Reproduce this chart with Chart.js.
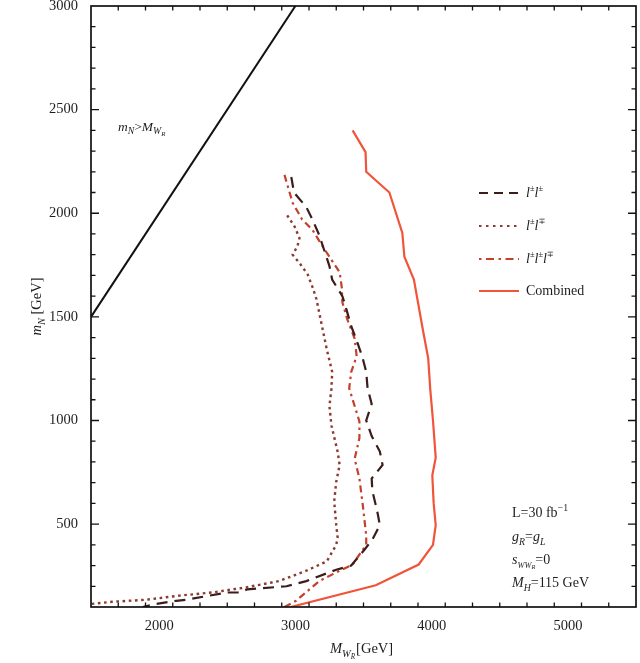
<!DOCTYPE html>
<html>
<head>
<meta charset="utf-8">
<script src="https://cdn.jsdelivr.net/npm/chart.js@4/dist/chart.umd.min.js"></script>
<style>
  html, body { margin: 0; padding: 0; background: #fff; }
  #wrap { width: 640px; height: 663px; }
</style>
</head>
<body>
<div id="wrap"><canvas id="c" width="640" height="663"></canvas></div>
<script>
// Axis ranges and tick values
const xRange = [1500, 5500];
const yRange = [100, 3000];
const xMajorTicks = [2000, 3000, 4000, 5000];
const yMajorTicks = [500, 1000, 1500, 2000, 2500, 3000];
const xMinorStep = 200;
const yMinorStep = 100;

// Kinematic boundary m_N = M_WR
const boundaryMW = [1500, 3000];
const boundaryMN = [1500, 3000];

// l±l± (dashed)
const ssMW = [2970, 2990, 3080, 3125, 3175, 3210, 3250, 3270, 3345, 3375, 3410, 3450, 3490, 3520, 3530, 3560, 3520, 3560, 3620, 3640, 3560, 3565, 3600, 3620, 3565, 3505, 3410, 3300, 3140, 3080, 2935, 2645, 2590, 2495, 2370, 2200, 2125, 1980, 1880];
const ssMN = [2175, 2100, 2030, 1970, 1895, 1825, 1745, 1680, 1600, 1535, 1455, 1385, 1310, 1235, 1155, 1080, 1000, 925, 850, 785, 720, 660, 565, 495, 425, 375, 300, 280, 240, 225, 200, 185, 170, 170, 155, 135, 130, 115, 100];

// l±l∓ (dotted)
const osMW = [2940, 2995, 3030, 3015, 2980, 3030, 3090, 3125, 3155, 3175, 3200, 3230, 3270, 3265, 3250, 3265, 3310, 3325, 3300, 3285, 3300, 3310, 3300, 3230, 3080, 2880, 2640, 2390, 2150, 1905, 1655, 1500];
const osMN = [1990, 1935, 1880, 1840, 1800, 1760, 1705, 1645, 1585, 1520, 1440, 1345, 1235, 1155, 1070, 975, 850, 785, 705, 610, 495, 435, 400, 320, 275, 225, 195, 170, 155, 135, 125, 115];

// l±l±l∓ (dash-dot)
const triMW = [2920, 2980, 3050, 3125, 3200, 3265, 3325, 3340, 3345, 3380, 3435, 3450, 3410, 3395, 3435, 3470, 3470, 3435, 3470, 3495, 3520, 3520, 3420, 3325, 3175, 3005, 2920];
const triMN = [2185, 2050, 1970, 1920, 1840, 1775, 1715, 1645, 1570, 1490, 1395, 1310, 1235, 1155, 1070, 995, 915, 815, 720, 590, 445, 400, 305, 275, 225, 130, 100];

// Combined
const combMW = [3420, 3515, 3520, 3690, 3785, 3800, 3870, 3935, 3975, 3990, 4010, 4030, 4005, 4015, 4030, 4010, 3905, 3590, 2965];
const combMN = [2400, 2295, 2200, 2100, 1905, 1790, 1680, 1440, 1300, 1150, 1000, 820, 735, 600, 495, 400, 305, 205, 100];

const toPts = (xs, ys) => xs.map((x, i) => ({ x: x, y: ys[i] }));

const SERIF = '"Liberation Serif", "DejaVu Serif", serif';
const TXT = '#1e1e1e';

// Draws a run of text pieces with italic / subscript / superscript support
function richWidth(ctx, segs, size) {
  let w = 0;
  for (const s of segs) {
    const fs = size * (s.scale || 1);
    ctx.font = (s.i ? 'italic ' : '') + fs + 'px ' + SERIF;
    w += ctx.measureText(s.t).width + (s.gap || 0);
  }
  return w;
}
function drawRich(ctx, x, y, segs, size, align) {
  ctx.save();
  ctx.fillStyle = TXT;
  ctx.textBaseline = 'alphabetic';
  ctx.textAlign = 'left';
  let cx = x;
  if (align === 'center') cx = x - richWidth(ctx, segs, size) / 2;
  for (const s of segs) {
    const fs = size * (s.scale || 1);
    ctx.font = (s.i ? 'italic ' : '') + fs + 'px ' + SERIF;
    ctx.fillText(s.t, cx, y + (s.dy || 0) * size);
    cx += ctx.measureText(s.t).width + (s.gap || 0);
  }
  ctx.restore();
}

const frameAndText = {
  id: 'frameAndText',
  beforeDraw(chart) {
    const ctx = chart.ctx;
    ctx.save();
    ctx.fillStyle = '#fff';
    ctx.fillRect(0, 0, chart.width, chart.height);
    ctx.restore();
  },
  afterDraw(chart) {
    const ctx = chart.ctx;
    const a = chart.chartArea;
    const xs = chart.scales.x, ys = chart.scales.y;

    // frame
    ctx.save();
    ctx.strokeStyle = '#111';
    ctx.lineWidth = 1.7;
    ctx.strokeRect(a.left, a.top, a.right - a.left, a.bottom - a.top);

    // inward ticks on all four sides
    ctx.lineWidth = 1.3;
    ctx.beginPath();
    for (let v = xRange[0]; v <= xRange[1]; v += xMinorStep) {
      if (v <= xRange[0] || v >= xRange[1]) continue;
      const px = xs.getPixelForValue(v);
      const len = xMajorTicks.includes(v) ? 8 : 4.5;
      ctx.moveTo(px, a.bottom); ctx.lineTo(px, a.bottom - len);
      ctx.moveTo(px, a.top); ctx.lineTo(px, a.top + len);
    }
    for (let v = 200; v <= yRange[1]; v += yMinorStep) {
      if (v >= yRange[1]) continue;
      const py = ys.getPixelForValue(v);
      const len = yMajorTicks.includes(v) ? 8 : 4.5;
      ctx.moveTo(a.left, py); ctx.lineTo(a.left + len, py);
      ctx.moveTo(a.right, py); ctx.lineTo(a.right - len, py);
    }
    ctx.stroke();
    ctx.restore();

    // axis titles
    const fs = 14.5;
    ctx.save();
    ctx.translate(36, (a.top + a.bottom) / 2);
    ctx.rotate(-Math.PI / 2);
    drawRich(ctx, 0, 5, [
      { t: 'm', i: true },
      { t: 'N', i: true, scale: 0.72, dy: 0.25 },
      { t: ' [GeV]' }
    ], fs, 'center');
    ctx.restore();

    drawRich(ctx, (a.left + a.right) / 2 - 2, 653, [
      { t: 'M', i: true },
      { t: 'W', i: true, scale: 0.72, dy: 0.25 },
      { t: 'R', i: true, scale: 0.5, dy: 0.38, gap: 1 },
      { t: '[GeV]' }
    ], fs, 'center');

    // boundary label
    drawRich(ctx, 118, 131, [
      { t: 'm', i: true },
      { t: 'N', i: true, scale: 0.72, dy: 0.25 },
      { t: '>' },
      { t: 'M', i: true },
      { t: 'W', i: true, scale: 0.72, dy: 0.25 },
      { t: 'R', i: true, scale: 0.5, dy: 0.38 }
    ], 13.5);

    // legend
    const legendRows = [
      { y: 193, color: '#3b1d1b', dash: [9, 6], w: 2, label: [{ t: 'l', i: true }, { t: '±', scale: 0.6, dy: -0.45 }, { t: 'l', i: true }, { t: '±', scale: 0.6, dy: -0.45 }] },
      { y: 226, color: '#8b3a30', dash: [2.5, 4.5], w: 2.2, label: [{ t: 'l', i: true }, { t: '±', scale: 0.6, dy: -0.45 }, { t: 'l', i: true }, { t: '∓', scale: 0.6, dy: -0.45 }] },
      { y: 259, color: '#c4402c', dash: [2.5, 4.5, 8, 4.5], w: 2, label: [{ t: 'l', i: true }, { t: '±', scale: 0.6, dy: -0.45 }, { t: 'l', i: true }, { t: '±', scale: 0.6, dy: -0.45 }, { t: 'l', i: true }, { t: '∓', scale: 0.6, dy: -0.45 }] },
      { y: 291, color: '#f0553a', dash: [], w: 2.2, label: [{ t: 'Combined' }] }
    ];
    for (const r of legendRows) {
      ctx.save();
      ctx.strokeStyle = r.color;
      ctx.lineWidth = r.w;
      ctx.setLineDash(r.dash);
      ctx.beginPath();
      ctx.moveTo(479, r.y);
      ctx.lineTo(519, r.y);
      ctx.stroke();
      ctx.restore();
      drawRich(ctx, 526, r.y + 4, r.label, 14);
    }

    // parameter notes
    const nx = 512;
    drawRich(ctx, nx, 517, [{ t: 'L=30 fb' }, { t: '−1', scale: 0.7, dy: -0.4 }], 14);
    drawRich(ctx, nx, 541, [
      { t: 'g', i: true }, { t: 'R', i: true, scale: 0.7, dy: 0.25 },
      { t: '=' },
      { t: 'g', i: true }, { t: 'L', i: true, scale: 0.7, dy: 0.25 }
    ], 14);
    drawRich(ctx, nx, 564, [
      { t: 's', i: true }, { t: 'WW', i: true, scale: 0.6, dy: 0.25 }, { t: 'R', i: true, scale: 0.45, dy: 0.38 },
      { t: '=0' }
    ], 14);
    drawRich(ctx, nx, 587, [
      { t: 'M', i: true }, { t: 'H', i: true, scale: 0.7, dy: 0.25 },
      { t: '=115 GeV' }
    ], 14);
  }
};

const lineDs = (label, pts, color, dash, width) => ({
  label: label,
  data: pts,
  showLine: true,
  borderColor: color,
  backgroundColor: color,
  borderDash: dash,
  borderWidth: width,
  pointRadius: 0,
  tension: 0,
  fill: false
});

new Chart(document.getElementById('c'), {
  type: 'scatter',
  data: {
    datasets: [
      lineDs('mN > MWR', toPts(boundaryMW, boundaryMN), '#111111', [], 2),
      lineDs('l±l±', toPts(ssMW, ssMN), '#3b1d1b', [11, 7], 2.2),
      lineDs('l±l∓', toPts(osMW, osMN), '#8b3a30', [2.6, 3.6], 2.4),
      lineDs('l±l±l∓', toPts(triMW, triMN), '#c4402c', [7, 4, 2.5, 4], 2.2),
      lineDs('Combined', toPts(combMW, combMN), '#f0553a', [], 2.2)
    ]
  },
  options: {
    responsive: false,
    animation: false,
    devicePixelRatio: 1,
    layout: { padding: { top: 6, right: 4, left: 0, bottom: 0 } },
    plugins: {
      legend: { display: false },
      tooltip: { enabled: false }
    },
    scales: {
      x: {
        type: 'linear',
        min: xRange[0],
        max: xRange[1],
        grid: { display: false },
        border: { display: false },
        afterBuildTicks: s => { s.ticks = xMajorTicks.map(v => ({ value: v })); },
        afterFit: s => { s.height = 56; s.paddingLeft = 0; s.paddingRight = 0; },
        ticks: {
          padding: 2,
          color: TXT,
          font: { family: SERIF, size: 14.5 },
          maxRotation: 0,
          callback: v => String(v)
        }
      },
      y: {
        type: 'linear',
        min: yRange[0],
        max: yRange[1],
        grid: { display: false },
        border: { display: false },
        afterBuildTicks: s => { s.ticks = yMajorTicks.map(v => ({ value: v })); },
        afterFit: s => { s.width = 91; s.paddingTop = 0; s.paddingBottom = 0; },
        ticks: {
          padding: 5,
          color: TXT,
          font: { family: SERIF, size: 14.5 },
          callback: v => String(v)
        }
      }
    }
  },
  plugins: [frameAndText]
});
</script>
</body>
</html>
